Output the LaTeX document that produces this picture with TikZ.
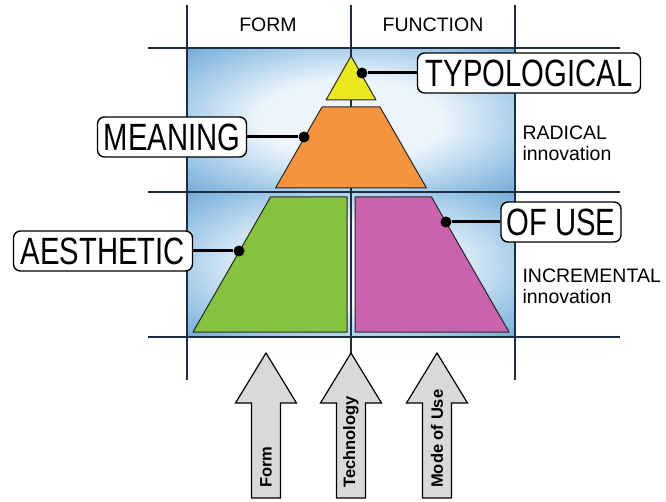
\documentclass[tikz,border=0pt]{standalone}
\usepackage{fontspec}
\setmainfont{Liberation Sans}
\newfontfamily\narrowfont[FakeStretch=0.77]{Liberation Sans}
\definecolor{panelblue}{HTML}{5F9BCC}
\definecolor{panelmid}{HTML}{9CC6E6}
\definecolor{panellight}{HTML}{EDF5FB}
\definecolor{gridnavy}{HTML}{1E2D44}
\definecolor{typoyellow}{HTML}{E8E81C}
\definecolor{meanorange}{HTML}{F4943F}
\definecolor{aesgreen}{HTML}{85C240}
\definecolor{usepurple}{HTML}{C764AD}
\definecolor{arrowgray}{HTML}{D9D9D9}
\pgfdeclareradialshading{panelglow}{\pgfpoint{0bp}{0bp}}{color(0bp)=(panellight); color(14bp)=(panellight); color(28bp)=(panelmid); color(40bp)=(panelblue); color(100bp)=(panelblue)}
\begin{document}
\begin{tikzpicture}[x=1pt,y=-1pt,
  tag/.style={draw=black,line width=1.4pt,rounded corners=7pt,fill=white,minimum height=40pt,inner sep=0pt,font=\narrowfont\fontsize{38}{40}\selectfont},
  knob/.style={circle,fill=black,inner sep=0pt,minimum size=11pt},
  gridline/.style={line width=2pt,color=gridnavy},
  piece/.style={draw=black!85,line width=1pt,line join=round},
  block/.style={draw=black,line width=1.2pt,fill=arrowgray},
  blocktext/.style={rotate=90,anchor=west,inner sep=0pt,font=\bfseries\fontsize{16.5}{18}\selectfont}]
\useasboundingbox (0,0) rectangle (666,502);
% background panels
\shade[shading=panelglow] (187,48) rectangle (515,192);
\shade[shading=panelglow] (187,192) rectangle (515,337);
% grid
\draw [gridline] (148,48) -- (620,48) (148,192) -- (620,192) (148,337) -- (620,337);
\draw [gridline] (187,5) -- (187,380) (515,5) -- (515,380);
\draw [gridline] (351,5) -- (351,353);
\node at (268,25) {\fontsize{19.5}{22}\selectfont FORM};
\node at (433,25) {\fontsize{19.5}{22}\selectfont FUNCTION};
\node [anchor=west,align=left,font=\fontsize{19.5}{21}\selectfont] at (519,143) {RADICAL\\innovation};
\node [anchor=west,align=left,font=\fontsize{19.5}{21}\selectfont] at (519,286) {INCREMENTAL\\innovation};
% pyramid
\draw [piece,fill=typoyellow] (351,56) -- (376,100) -- (326,100) -- cycle;
\draw [piece,fill=meanorange] (322,107) -- (380,107) -- (426.5,188) -- (275.5,188) -- cycle;
\draw [piece,fill=aesgreen] (270.5,197) -- (347,197) -- (347,332) -- (193,332) -- cycle;
\draw [piece,fill=usepurple] (355,197) -- (431.5,197) -- (509,332) -- (355,332) -- cycle;
% labels
\node [tag,minimum width=223pt] (typo) at (529,73) {TYPOLOGICAL};
\node [tag,minimum width=149pt] (meaning) at (172,137) {MEANING};
\node [tag,minimum width=179pt] (aesthetic) at (103,251) {AESTHETIC};
\node [tag,minimum width=120pt] (ofuse) at (561,222) {OF USE};
\node [knob] (typodot) at (362,73) {};
\node [knob] (meaningdot) at (304,137) {};
\node [knob] (aestheticdot) at (239,251) {};
\node [knob] (ofusedot) at (446,222) {};
\draw [line width=3pt] (typo) -- (typodot);
\draw [line width=3pt] (meaning) -- (meaningdot);
\draw [line width=3pt] (aesthetic) -- (aestheticdot);
\draw [line width=3pt] (ofuse) -- (ofusedot);
% arrows
\draw [block] (266,353) -- (296.5,403) -- (280.5,403) -- (280.5,498) -- (251.5,498) -- (251.5,403) -- (235.5,403) -- cycle;
\draw [block] (351,353) -- (381.5,403) -- (365.5,403) -- (365.5,498) -- (336.5,498) -- (336.5,403) -- (320.5,403) -- cycle;
\draw [block] (437,353) -- (467.5,403) -- (451.5,403) -- (451.5,498) -- (422.5,498) -- (422.5,403) -- (406.5,403) -- cycle;
\node [blocktext] (formtext) at (266,488) {Form};
\node [blocktext] (techtext) at (351,488) {Technology};
\node [blocktext] (usetext) at (437,488) {Mode of Use};
\end{tikzpicture}
\end{document}
